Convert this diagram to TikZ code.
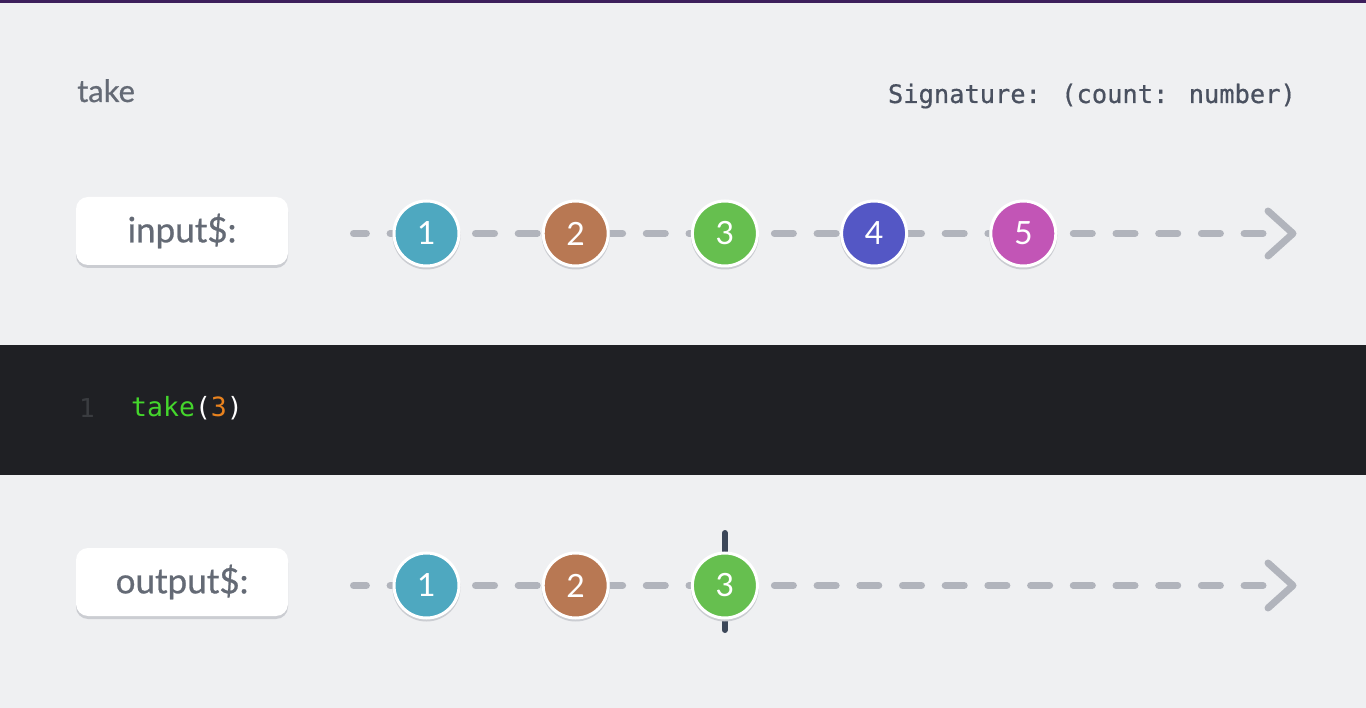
\documentclass[tikz,border=0pt]{standalone}
\usepackage{fontspec}
\newfontfamily\labelfont[FakeBold=0.7]{Lato}
\newfontfamily\digitfont{Lato}
\newfontfamily\monofont{DejaVu Sans Mono}
\newfontfamily\sigfont[FakeBold=0.6]{DejaVu Sans Mono}
\definecolor{bggray}{HTML}{EFF0F2}
\definecolor{topbar}{HTML}{3D1F5C}
\definecolor{codebg}{HTML}{1F2024}
\definecolor{linegray}{HTML}{B1B4BC}
\definecolor{shadowgray}{HTML}{CBCDD2}
\definecolor{textgray}{HTML}{646A75}
\definecolor{sigtext}{HTML}{4A5160}
\definecolor{markgray}{HTML}{3C4759}
\definecolor{codegreen}{HTML}{44D62C}
\definecolor{codeorange}{HTML}{E8821E}
\definecolor{linenum}{HTML}{3A3C40}
\definecolor{mblue}{HTML}{4EA8C0}
\definecolor{mbrown}{HTML}{B87853}
\definecolor{mgreen}{HTML}{66BF4F}
\definecolor{mindigo}{HTML}{5457C5}
\definecolor{mmagenta}{HTML}{C255B6}
\begin{document}
\begin{tikzpicture}[x=1pt,y=-1pt]
            \tikzset{
                marble/.style={circle,draw=white,line width=3pt,minimum size=65pt,inner sep=0pt,
                    text=white,font=\digitfont\fontsize{32}{32}\selectfont},
                streambox/.style={rectangle,rounded corners=12pt,fill=white,minimum width=212pt,minimum height=68pt,
                    text=textgray,font=\labelfont\fontsize{35}{35}\selectfont,
                    preaction={fill=shadowgray,transform canvas={yshift=-3pt}}},
                plaintext/.style={inner sep=0pt},
                timeline/.style={line width=7pt,line cap=round,linegray,dash pattern=on 19pt off 23.7pt,dash phase=6.1pt},
                chevron/.style={line width=7pt,line cap=round,line join=round,linegray},
                stopmark/.style={line width=6pt,line cap=round,markgray},}
            \useasboundingbox (0,0) rectangle (1366,708);
            \fill[bggray] (0,0) rectangle (1366,708);
            \fill[topbar] (0,0) rectangle (1366,3);
            \fill[codebg] (0,345) rectangle (1366,475);
            % header
            \node[plaintext,anchor=base west,text=textgray,font=\labelfont\fontsize{31}{31}\selectfont] (title) at (77,102) {take};
            \node[plaintext,anchor=base east,text=sigtext,font=\sigfont\fontsize{25.4}{25.4}\selectfont] (signature) at (1296,103) {Signature: (count: number)};
            % code
            \node[plaintext,anchor=base west,text=linenum,font=\monofont\fontsize{26}{26}\selectfont] (lineno) at (79,418) {1};
            \node[plaintext,anchor=base west,font=\monofont\fontsize{26.5}{26.5}\selectfont] (code) at (131,417)
                {\textcolor{codegreen}{take}\textcolor{white}{(}\textcolor{codeorange}{3}\textcolor{white}{)}};
            % input stream
            \node[streambox] (input) at (182,231) {input\$:};
            \coordinate (instart) at (353.5,233.5);
            \coordinate (inend) at (1263,233.5);
            \coordinate (inarrow) at (1293,233.5);
            \draw[timeline] (instart) -- (inend);
            \draw[chevron] (inarrow) ++(-25,-22.5) -- (inarrow) -- ++(-25,22.5);
            \foreach \i/\c in {1/mblue,2/mbrown,3/mgreen,4/mindigo,5/mmagenta}{
                \fill[shadowgray] ({426.5+149.2*(\i-1)},235.5) circle (34);
                \node[marble,fill=\c] (in\i) at ({426.5+149.2*(\i-1)},233.5) {\i};
            }
            % output stream
            \node[streambox] (output) at (182,582) {output\$:};
            \coordinate (outstart) at (353.5,585.5);
            \coordinate (outend) at (1263,585.5);
            \coordinate (outarrow) at (1293,585.5);
            \draw[timeline] (outstart) -- (outend);
            \draw[chevron] (outarrow) ++(-25,-22.5) -- (outarrow) -- ++(-25,22.5);
            \coordinate (stoptop) at (724.9,533);
            \coordinate (stopbottom) at (724.9,630);
            \draw[stopmark] (stoptop) -- (stopbottom);
            \foreach \i/\c in {1/mblue,2/mbrown,3/mgreen}{
                \fill[shadowgray] ({426.5+149.2*(\i-1)},587.5) circle (34);
                \node[marble,fill=\c] (out\i) at ({426.5+149.2*(\i-1)},585.5) {\i};
            }
        \end{tikzpicture}
\end{document}
